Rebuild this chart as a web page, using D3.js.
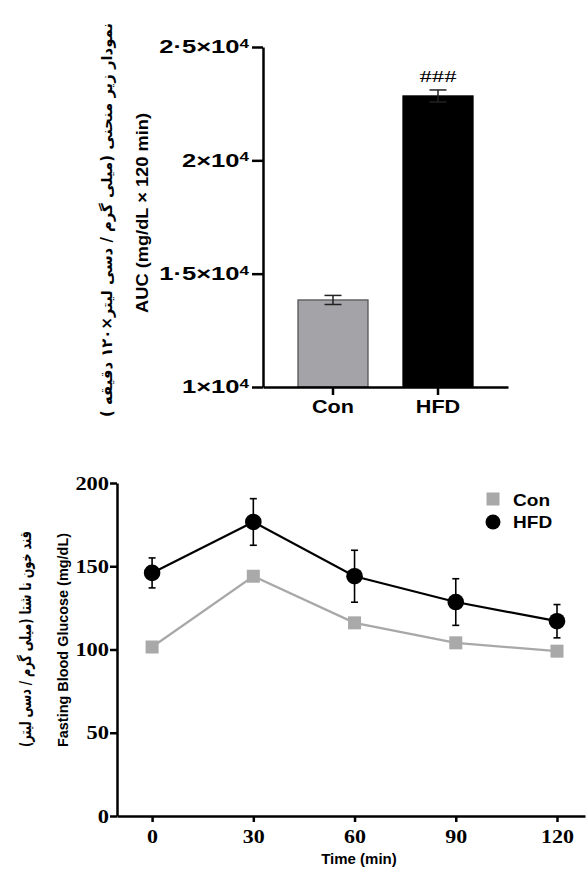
<!DOCTYPE html>
<html>
<head>
<meta charset="utf-8">
<script src="https://cdn.jsdelivr.net/npm/d3@7"></script>
<style>
  html, body { margin: 0; padding: 0; background: #fff; }
  svg { display: block; }
</style>
</head>
<body>
<script>
// ---------- DATA ----------
// Top chart: AUC bar chart
const barCategories = ["Con", "HFD"];
const aucMean = [13840, 22840];
const aucSEM = [200, 265];
const aucTicks = [10000, 15000, 20000, 25000];
const aucTickMantissa = ["1", "1·5", "2", "2·5"];
const aucTickExponent = "4";
const aucSignif = ["", "###"];

// Bottom chart: fasting blood glucose over time
const timePoints = [0, 30, 60, 90, 120];
const conGlucose = [101.5, 144, 116, 104, 99];
const hfdGlucose = [146, 176.6, 144, 128.5, 117];
const hfdSEM = [9, 14, 15.6, 14, 10];
const glucoseTicks = [0, 50, 100, 150, 200];
const seriesNames = ["Con", "HFD"];

const topYLabelEn = "AUC (mg/dL × 120 min)";
const topYLabelFa = "نمودار زیر منحنی (میلی گرم / دسی لیتر×۱۲۰ دقیقه )";
const botYLabelEn = "Fasting Blood Glucose (mg/dL)";
const botYLabelFa = "قند خون نا شتا (میلی گرم / دسی لیتر)";
const botXLabel = "Time (min)";

// ---------- HELPERS ----------
const SANS = "'Liberation Sans', Arial, sans-serif";
const SERIF = "'Liberation Serif', 'Times New Roman', serif";
const FARSI = "'DejaVu Sans', 'Noto Sans', sans-serif";
function stretch(sel, k) {
  sel.each(function () {
    const w = this.getComputedTextLength();
    d3.select(this).attr("textLength", w * k).attr("lengthAdjust", "spacingAndGlyphs");
  });
}

const svg = d3.select("body").append("svg").attr("width", 587).attr("height", 870);

// ================= TOP CHART =================
const yTop = d3.scaleLinear().domain([10000, 25000]).range([387, 47]);
const xTop = d3.scaleBand().domain(barCategories).range([263, 508])
  .paddingInner(1 / 3).paddingOuter(1 / 3);

const gTop = svg.append("g");

// bars
gTop.selectAll("rect.bar").data(barCategories).join("rect")
  .attr("class", "bar")
  .attr("x", d => xTop(d))
  .attr("width", xTop.bandwidth())
  .attr("y", (d, i) => yTop(aucMean[i]))
  .attr("height", (d, i) => yTop(10000) - yTop(aucMean[i]))
  .attr("fill", (d, i) => i === 0 ? "#a4a4a8" : "#000")
  .attr("stroke", (d, i) => i === 0 ? "#555" : "#000")
  .attr("stroke-width", 1.3);

// error bars (SEM)
const ebTop = gTop.selectAll("g.eb").data(barCategories).join("g").attr("class", "eb")
  .attr("stroke", "#222").attr("stroke-width", 1.5);
ebTop.append("line")
  .attr("x1", d => xTop(d) + xTop.bandwidth() / 2)
  .attr("x2", d => xTop(d) + xTop.bandwidth() / 2)
  .attr("y1", (d, i) => yTop(aucMean[i] - aucSEM[i]))
  .attr("y2", (d, i) => yTop(aucMean[i] + aucSEM[i]));
[1, -1].forEach(s => {
  ebTop.append("line")
    .attr("x1", d => xTop(d) + xTop.bandwidth() / 2 - 8.5)
    .attr("x2", d => xTop(d) + xTop.bandwidth() / 2 + 8.5)
    .attr("y1", (d, i) => yTop(aucMean[i] + s * aucSEM[i]))
    .attr("y2", (d, i) => yTop(aucMean[i] + s * aucSEM[i]));
});

// significance marks
gTop.selectAll("text.sig").data(barCategories).join("text")
  .attr("class", "sig")
  .attr("x", d => xTop(d) + xTop.bandwidth() / 2)
  .attr("y", (d, i) => yTop(aucMean[i] + aucSEM[i]) - 8)
  .attr("text-anchor", "middle")
  .attr("font-family", SERIF).attr("font-size", 17)
  .text((d, i) => aucSignif[i])
  .call(stretch, 1.45);

// y axis
const yAxTop = gTop.append("g").attr("transform", "translate(263,0)")
  .call(d3.axisLeft(yTop).tickValues(aucTicks).tickSize(11).tickSizeOuter(0).tickPadding(3));
yAxTop.select(".domain").attr("stroke", "#000").attr("stroke-width", 2.5);
yAxTop.selectAll(".tick line").attr("stroke", "#000").attr("stroke-width", 2.5);
yAxTop.selectAll(".tick text").each(function (d, i) {
  const t = d3.select(this);
  t.text(null)
    .attr("font-family", SANS).attr("font-weight", "bold").attr("font-size", 18).attr("fill", "#000");
  t.append("tspan").text(aucTickMantissa[i] + "×10");
  t.append("tspan").attr("dy", "-0.45em").attr("font-size", 12).text(aucTickExponent);
}).call(stretch, 1.42);

// x axis
const xAxTop = gTop.append("g").attr("transform", "translate(0,387)")
  .call(d3.axisBottom(xTop).tickSize(8).tickSizeOuter(0).tickPadding(5));
xAxTop.select(".domain").attr("stroke", "#000").attr("stroke-width", 2.5);
xAxTop.selectAll(".tick line").attr("stroke", "#000").attr("stroke-width", 2.5);
xAxTop.selectAll(".tick text")
  .attr("font-family", SANS).attr("font-weight", "bold").attr("font-size", 18).attr("fill", "#000")
  .call(stretch, 1.2);

// y labels
svg.append("text")
  .attr("transform", "translate(148,213) rotate(-90)")
  .attr("text-anchor", "middle")
  .attr("font-family", SANS).attr("font-weight", "bold").attr("font-size", 16)
  .text(topYLabelEn)
  .attr("textLength", 200).attr("lengthAdjust", "spacingAndGlyphs");
svg.append("text")
  .attr("transform", "translate(112,220) rotate(-90)")
  .attr("text-anchor", "middle")
  .attr("font-family", FARSI).attr("font-size", 15).attr("font-weight", "bold")
  .attr("direction", "rtl")
  .text(topYLabelFa)
  .attr("textLength", 394).attr("lengthAdjust", "spacingAndGlyphs");

// ================= BOTTOM CHART =================
const xBot = d3.scaleLinear().domain([-10.4, 128.3]).range([117, 585]);
const yBot = d3.scaleLinear().domain([0, 200]).range([816, 483]);
const gBot = svg.append("g");

// lines
const line = d3.line().x((d, i) => xBot(timePoints[i])).y(d => yBot(d));
gBot.append("path").datum(conGlucose).attr("d", line)
  .attr("fill", "none").attr("stroke", "#a8a8a8").attr("stroke-width", 2.2);
gBot.append("path").datum(hfdGlucose).attr("d", line)
  .attr("fill", "none").attr("stroke", "#000").attr("stroke-width", 2.2);

// Con squares
gBot.selectAll("rect.con").data(conGlucose).join("rect").attr("class", "con")
  .attr("x", (d, i) => xBot(timePoints[i]) - 6.5)
  .attr("y", d => yBot(d) - 6.5)
  .attr("width", 13).attr("height", 13)
  .attr("fill", "#a9a9a9");

// HFD error bars
const ebBot = gBot.selectAll("g.ebb").data(hfdGlucose).join("g").attr("class", "ebb")
  .attr("stroke", "#000").attr("stroke-width", 1.6);
ebBot.append("line")
  .attr("x1", (d, i) => xBot(timePoints[i])).attr("x2", (d, i) => xBot(timePoints[i]))
  .attr("y1", (d, i) => yBot(d - hfdSEM[i])).attr("y2", (d, i) => yBot(d + hfdSEM[i]));
[1, -1].forEach(s => {
  ebBot.append("line")
    .attr("x1", (d, i) => xBot(timePoints[i]) - 3.5).attr("x2", (d, i) => xBot(timePoints[i]) + 3.5)
    .attr("y1", (d, i) => yBot(d + s * hfdSEM[i])).attr("y2", (d, i) => yBot(d + s * hfdSEM[i]));
});

// HFD circles
gBot.selectAll("circle.hfd").data(hfdGlucose).join("circle").attr("class", "hfd")
  .attr("cx", (d, i) => xBot(timePoints[i])).attr("cy", d => yBot(d))
  .attr("r", 8.3).attr("fill", "#000");

// axes
const yAxBot = gBot.append("g").attr("transform", "translate(117,0)")
  .call(d3.axisLeft(yBot).tickValues(glucoseTicks).tickSize(7).tickSizeOuter(0).tickPadding(1));
yAxBot.select(".domain").attr("stroke", "#000").attr("stroke-width", 2.5);
yAxBot.selectAll(".tick line").attr("stroke", "#000").attr("stroke-width", 2.5);
yAxBot.selectAll(".tick text")
  .attr("font-family", SERIF).attr("font-weight", "bold").attr("font-size", 19).attr("fill", "#000")
  .call(stretch, 1.18);

const xAxBot = gBot.append("g").attr("transform", "translate(0,816)")
  .call(d3.axisBottom(xBot).tickValues(timePoints).tickSize(6).tickSizeOuter(0).tickPadding(8));
xAxBot.select(".domain").attr("stroke", "#000").attr("stroke-width", 2.5);
xAxBot.selectAll(".tick line").attr("stroke", "#000").attr("stroke-width", 2.5);
xAxBot.selectAll(".tick text")
  .attr("font-family", SERIF).attr("font-weight", "bold").attr("font-size", 18).attr("fill", "#000")
  .call(stretch, 1.22);

// axis labels
svg.append("text")
  .attr("x", 359).attr("y", 864).attr("text-anchor", "middle")
  .attr("font-family", SANS).attr("font-weight", "bold").attr("font-size", 15)
  .text(botXLabel);
svg.append("text")
  .attr("transform", "translate(68,640) rotate(-90)")
  .attr("text-anchor", "middle")
  .attr("font-family", SANS).attr("font-weight", "bold").attr("font-size", 15)
  .text(botYLabelEn)
  .attr("textLength", 214).attr("lengthAdjust", "spacingAndGlyphs");
svg.append("text")
  .attr("transform", "translate(31,639) rotate(-90)")
  .attr("text-anchor", "middle")
  .attr("font-family", FARSI).attr("font-size", 16).attr("font-weight", "bold")
  .attr("direction", "rtl")
  .text(botYLabelFa)
  .attr("textLength", 216).attr("lengthAdjust", "spacingAndGlyphs");

// legend
const leg = svg.append("g").attr("transform", "translate(493,499)");
leg.append("rect").attr("x", -6.5).attr("y", -6.5).attr("width", 13).attr("height", 13).attr("fill", "#a9a9a9");
leg.append("circle").attr("cx", 0).attr("cy", 23).attr("r", 7.5).attr("fill", "#000");
leg.selectAll("text").data(seriesNames).join("text")
  .attr("x", 20).attr("y", (d, i) => i * 22 + 6.5)
  .attr("font-family", SANS).attr("font-weight", "bold").attr("font-size", 17)
  .text(d => d)
  .call(stretch, 1.12);
</script>
</body>
</html>
